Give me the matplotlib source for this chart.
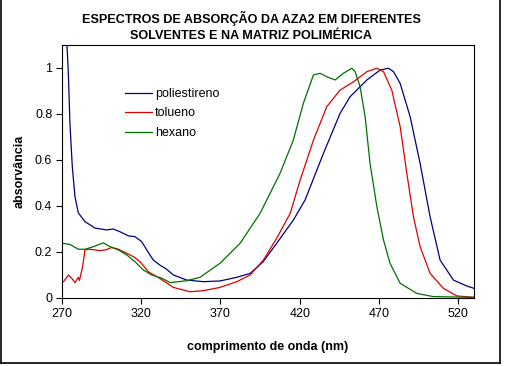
import matplotlib.pyplot as plt
from matplotlib.lines import Line2D
from matplotlib.ticker import FuncFormatter

plt.rcParams['font.family'] = ['Liberation Sans', 'DejaVu Sans']

# poliestireno (matriz polimérica)
poli_nm = [270, 273, 274, 275, 276.5, 278.2, 280.3, 284.5, 290.8, 298.2, 302.4, 306.6,
           311.9, 316, 320.3, 323.5, 327.6, 332, 336, 340.3, 348.7, 359.2, 369.7, 380.3,
           388.7, 397, 405.5, 416, 423.4, 435, 445.5, 451.8, 462.4, 470.8, 476, 479.2,
           483.4, 489.7, 496, 502.3, 508.6, 517, 525.5, 530]
poli_abs = [1.45, 1.12, 0.977, 0.76, 0.571, 0.44, 0.37, 0.332, 0.304, 0.296, 0.30, 0.288,
            0.27, 0.267, 0.245, 0.209, 0.165, 0.142, 0.125, 0.10, 0.078, 0.071, 0.074, 0.09,
            0.107, 0.158, 0.238, 0.339, 0.426, 0.629, 0.803, 0.875, 0.948, 0.991, 0.999, 0.984,
            0.933, 0.788, 0.585, 0.353, 0.165, 0.078, 0.052, 0.042]

# tolueno
tol_nm = [270, 271, 274, 276.1, 278.2, 280.3, 281, 283, 284.5, 287.7, 294, 298, 301.4,
          305.6, 310.9, 315, 319.2, 324.5, 329.8, 334, 340.3, 350.8, 359.2, 369.7, 380.3,
          388.7, 397.1, 405.5, 414, 420.3, 428.7, 437.1, 445.5, 453.9, 462.4, 468.7, 472.9,
          478.1, 483.4, 487.6, 491.8, 496, 502.3, 510.7, 519.2, 530]
tol_abs = [0.071, 0.071, 0.10, 0.086, 0.067, 0.09, 0.076, 0.136, 0.209, 0.212, 0.206, 0.21,
           0.22, 0.212, 0.194, 0.18, 0.158, 0.114, 0.093, 0.075, 0.046, 0.027, 0.032, 0.046,
           0.071, 0.10, 0.165, 0.26, 0.368, 0.513, 0.687, 0.832, 0.904, 0.94, 0.984, 0.999,
           0.984, 0.904, 0.745, 0.542, 0.353, 0.223, 0.107, 0.042, 0.009, 0.003]

# hexano
hex_nm = [270, 275, 280.3, 284.5, 289.8, 296.1, 300.3, 305.6, 310.9, 316, 321.3, 326.6,
          333, 338.2, 348.7, 357.1, 369.7, 382.4, 395, 407.6, 416, 422.3, 428.7, 432.9,
          437.1, 442.3, 447.6, 452.9, 455, 458.1, 461.3, 464.4, 468.7, 472.9, 477, 483.4,
          493.9, 504.4, 530]
hex_abs = [0.238, 0.233, 0.212, 0.212, 0.223, 0.24, 0.223, 0.209, 0.187, 0.158, 0.122, 0.10,
           0.086, 0.067, 0.075, 0.09, 0.151, 0.238, 0.368, 0.542, 0.687, 0.846, 0.97, 0.977,
           0.962, 0.948, 0.977, 0.999, 0.984, 0.919, 0.788, 0.585, 0.397, 0.252, 0.151, 0.064,
           0.02, 0.006, 0.003]

x_ticks = [270, 320, 370, 420, 470, 520]
y_ticks = [0, 0.2, 0.4, 0.6, 0.8, 1.0]

fig = plt.figure(figsize=(5.06, 3.66), dpi=100)
ax = fig.add_axes([62 / 506, 1 - 298 / 366, 412 / 506, 253 / 366])

ax.plot(poli_nm, poli_abs, color='#000080', lw=0.9, label='poliestireno')
ax.plot(tol_nm, tol_abs, color='#e00000', lw=0.9, label='tolueno')
ax.plot(hex_nm, hex_abs, color='#007000', lw=0.9, label='hexano')

ax.set_xlim(270, 530)
ax.set_ylim(0, 1.1)
ax.set_xticks(x_ticks)
ax.set_yticks(y_ticks)
ax.yaxis.set_major_formatter(FuncFormatter(lambda v, p: f'{v:g}'))
ax.tick_params(direction='out', length=4, width=0.8, labelsize=9, pad=3)
for s in ax.spines.values():
    s.set_linewidth(0.8)

ax.set_xlabel('comprimento de onda (nm)', fontsize=9, fontweight='bold', labelpad=15)
ax.set_ylabel('absorvância', fontsize=9, fontweight='bold', labelpad=7)
fig.text(0.497, 0.928, 'ESPECTROS DE ABSORÇÃO DA AZA2 EM DIFERENTES\nSOLVENTES E NA MATRIZ POLIMÉRICA',
         ha='center', va='center', fontsize=9.1, fontweight='bold', linespacing=1.45)

ax.legend(loc='upper left', bbox_to_anchor=(0.14, 0.85), frameon=False, fontsize=9,
          handlelength=2.2, handletextpad=0.2, labelspacing=0.6, borderaxespad=0)

# moldura externa (sem linha no topo)
frame = dict(color='black', lw=1.2, transform=fig.transFigure)
fig.add_artist(Line2D([0.002, 0.002], [0.009, 1.0], **frame))
fig.add_artist(Line2D([0.002, 0.988], [0.009, 0.009], **frame))
fig.add_artist(Line2D([0.988, 0.988], [0.009, 1.0], **frame))

fig.savefig('out.png', dpi=100)
